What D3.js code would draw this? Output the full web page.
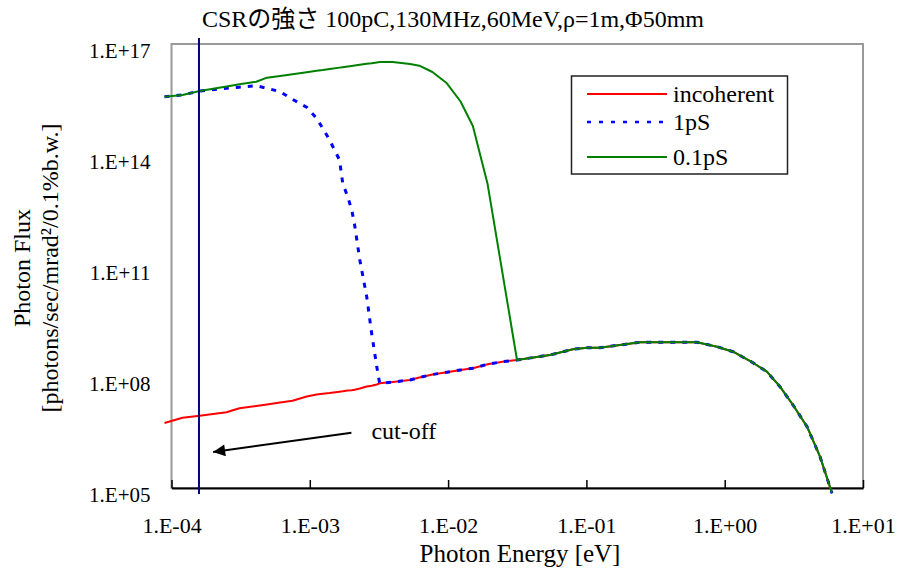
<!DOCTYPE html>
<html>
<head>
<meta charset="utf-8">
<script src="https://cdn.jsdelivr.net/npm/d3@7/dist/d3.min.js"></script>
</head>
<body style="margin:0; background:#ffffff">
<svg id="chart" width="898" height="572" font-family="Liberation Serif, Noto Sans CJK JP, serif"></svg>
<script>
// Photon energy [eV] grid shared by all three series
var energy = [8.9e-5, 1.2e-4, 1.6e-4, 2.5e-4, 3.1e-4, 4.1e-4, 4.9e-4, 6.1e-4, 7.5e-4, 9.5e-4,
    1.12e-3, 1.24e-3, 1.39e-3, 1.64e-3, 1.73e-3, 1.88e-3, 2.01e-3, 2.11e-3, 2.30e-3, 2.58e-3,
    2.80e-3, 3.05e-3, 3.2e-3, 3.98e-3, 5.3e-3, 6.2e-3, 7.7e-3, 9.8e-3, 1.23e-2, 1.51e-2,
    1.93e-2, 2.48e-2, 3.15e-2, 5.45e-2, 8.0e-2, 0.101, 0.125, 0.244, 0.63, 0.88,
    1.15, 1.6, 2.02, 2.51, 3.12, 3.94, 4.89, 5.97];

// incoherent
var fluxIncoherent = [5.7e6, 7.9e6, 9.0e6, 1.11e7, 1.43e7, 1.64e7, 1.81e7, 2.05e7, 2.29e7, 2.97e7,
    3.37e7, 3.54e7, 3.70e7, 4.01e7, 4.11e7, 4.32e7, 4.40e7, 4.51e7, 4.89e7, 5.53e7,
    5.78e7, 6.27e7, 6.76e7, 7.33e7, 8.30e7, 9.69e7, 1.17e8, 1.34e8, 1.55e8, 1.72e8,
    2.22e8, 2.59e8, 2.88e8, 3.93e8, 5.61e8, 6.20e8, 6.20e8, 8.67e8, 8.67e8, 6.59e8,
    4.83e8, 2.43e8, 1.39e8, 5.47e7, 1.75e7, 4.54e6, 7.02e5, 7.2e4];

// 1pS bunch
var flux1pS = [3.77e15, 4.19e15, 5.37e15, 6.35e15, 6.79e15, 7.46e15, 6.35e15, 5.14e15, 3.20e15, 1.95e15,
    9.8e14, 5.27e14, 2.54e14, 7.33e13, 1.72e13, 7.46e12, 3.27e12, 1.28e12, 1.45e11, 1.48e10,
    1.52e9, 1.90e8, 6.76e7, 7.33e7, 8.30e7, 9.69e7, 1.17e8, 1.34e8, 1.55e8, 1.72e8,
    2.22e8, 2.59e8, 2.88e8, 3.93e8, 5.61e8, 6.20e8, 6.20e8, 8.67e8, 8.67e8, 6.59e8,
    4.83e8, 2.43e8, 1.39e8, 5.47e7, 1.75e7, 4.54e6, 7.02e5, 7.2e4];

// 0.1pS bunch (null = no point read there)
var flux01pS = [3.77e15, 4.19e15, 5.37e15, 7.10e15, 8.15e15, 9.57e15, 1.23e16, 1.37e16, 1.53e16, 1.73e16,
    1.89e16, 1.98e16, 2.11e16, 2.30e16, 2.36e16, 2.47e16, 2.56e16, 2.62e16, 2.74e16, 2.92e16,
    3.03e16, 3.18e16, 3.27e16, 3.27e16, 2.88e16, 2.59e16, 1.75e16, 8.67e15, 2.79e15, 6.08e14,
    1.64e13, null, 2.88e8, 3.93e8, 5.61e8, 6.20e8, 6.20e8, 8.67e8, 8.67e8, 6.59e8,
    4.83e8, 2.43e8, 1.39e8, 5.47e7, 1.75e7, 4.54e6, 7.02e5, 7.2e4];

var seriesNames = ["incoherent", "1pS", "0.1pS"];
var xTicks = [1e-4, 1e-3, 1e-2, 1e-1, 1e0, 1e1];
var yTicks = [1e5, 1e8, 1e11, 1e14, 1e17];

// cut-off marker and its annotation arrow (data coordinates)
var cutoffEnergy = 1.58e-4;
var arrowFrom = [2.0e-3, 3.1e6];
var arrowTo = [2.0e-4, 9.4e5];

var titleText = "CSRの強さ 100pC,130MHz,60MeV,ρ=1m,Φ50mm";

var FONT = "Liberation Serif, Noto Sans CJK JP, serif";
var plot = { left: 171.5, right: 863, top: 44, bottom: 488 };

var svg = d3.select("#chart");

var x = d3.scaleLog().domain([1e-4, 10]).range([plot.left, plot.right]);
var y = d3.scaleLog().domain([1e5, 1e17]).range([plot.bottom, plot.top]);

function expLabel(v)
{
    var e = Math.round(Math.log10(v));
    var s = e < 0 ? "-" : "+";
    var a = Math.abs(e);
    return "1.E" + s + (a < 10 ? "0" + a : a);
}

/* plot frame (gray) */
svg.append("rect")
    .attr("x", plot.left).attr("y", plot.top)
    .attr("width", plot.right - plot.left).attr("height", plot.bottom - plot.top)
    .attr("fill", "none").attr("stroke", "#999999").attr("stroke-width", 2);

/* x axis: black line, ticks pointing inwards */
var xAxis = svg.append("g")
    .attr("transform", "translate(0," + plot.bottom + ")")
    .call(d3.axisBottom(x).tickValues(xTicks).tickSize(-8).tickSizeOuter(0).tickPadding(29).tickFormat(expLabel));
xAxis.attr("font-family", FONT).attr("font-size", 22);
xAxis.select(".domain").attr("stroke", "#000").attr("stroke-width", 2);
xAxis.selectAll(".tick line").attr("stroke", "#000").attr("stroke-width", 1.5);
xAxis.selectAll(".tick text").attr("dy", "0.71em");

/* y axis: labels only */
var yAxis = svg.append("g")
    .attr("transform", "translate(" + plot.left + ",0)")
    .call(d3.axisLeft(y).tickValues(yTicks).tickSize(0).tickPadding(21).tickFormat(expLabel));
yAxis.attr("font-family", FONT).attr("font-size", 21);
yAxis.select(".domain").remove();
yAxis.selectAll(".tick text").attr("dy", "0.62em");

/* series */
function seriesData(values)
{
    var pts = [];
    for (var i = 0; i < energy.length; i++) {
        if (values[i] !== null) pts.push({ e: energy[i], f: values[i] });
    }
    return pts;
}

var line = d3.line().x(function (d) { return x(d.e); }).y(function (d) { return y(d.f); });

var styles = [
    { color: "#ff0000", width: 2, dash: null },
    { color: "#0000ff", width: 3, dash: "5,7" },
    { color: "#008000", width: 2, dash: null }
];
var allSeries = [fluxIncoherent, flux1pS, flux01pS];

for (var s = 0; s < allSeries.length; s++) {
    svg.append("path")
        .datum(seriesData(allSeries[s]))
        .attr("d", line)
        .attr("fill", "none")
        .attr("stroke", styles[s].color)
        .attr("stroke-width", styles[s].width)
        .attr("stroke-dasharray", styles[s].dash)
        .attr("stroke-linejoin", "round");
}

/* cut-off vertical line */
svg.append("line")
    .attr("x1", x(cutoffEnergy)).attr("x2", x(cutoffEnergy))
    .attr("y1", plot.top - 6).attr("y2", plot.bottom + 6)
    .attr("stroke", "#000080").attr("stroke-width", 2);

/* arrow */
svg.append("defs").append("marker")
    .attr("id", "arrowHead")
    .attr("viewBox", "0 0 10 10")
    .attr("refX", 10).attr("refY", 5)
    .attr("markerWidth", 7).attr("markerHeight", 6)
    .attr("markerUnits", "strokeWidth")
    .attr("orient", "auto")
    .append("path").attr("d", "M0,0L10,5L0,10z").attr("fill", "#000");

svg.append("line")
    .attr("x1", x(arrowFrom[0])).attr("y1", y(arrowFrom[1]))
    .attr("x2", x(arrowTo[0])).attr("y2", y(arrowTo[1]))
    .attr("stroke", "#000").attr("stroke-width", 2)
    .attr("marker-end", "url(#arrowHead)");

function addText(parent, size)
{
    return parent.append("text")
        .attr("font-family", FONT)
        .attr("font-size", size)
        .attr("fill", "#000");
}

addText(svg, 24)
    .attr("x", x(arrowFrom[0]) + 20).attr("y", y(arrowFrom[1]) + 6)
    .text("cut-off");

/* legend */
var legend = svg.append("g");
legend.append("rect")
    .attr("x", 571.5).attr("y", 76).attr("width", 216).attr("height", 98)
    .attr("fill", "#fff").attr("stroke", "#222").attr("stroke-width", 1.5);
var legendRowY = [94, 122, 157];
for (var k = 0; k < seriesNames.length; k++) {
    legend.append("line")
        .attr("x1", 587).attr("x2", 667)
        .attr("y1", legendRowY[k]).attr("y2", legendRowY[k])
        .attr("stroke", styles[k].color)
        .attr("stroke-width", styles[k].dash ? 2.5 : 2)
        .attr("stroke-dasharray", styles[k].dash ? "4,8" : null);
    addText(legend, 24)
        .attr("x", 673).attr("y", legendRowY[k] + 8)
        .text(seriesNames[k]);
}

/* titles */
addText(svg, 24)
    .attr("x", 453).attr("y", 27)
    .attr("text-anchor", "middle")
    .text(titleText);

addText(svg, 25)
    .attr("x", 520).attr("y", 562)
    .attr("text-anchor", "middle")
    .text("Photon Energy [eV]");

/* y title, two rotated lines */
addText(svg, 24)
    .attr("transform", "translate(30,268) rotate(-90)")
    .attr("text-anchor", "middle")
    .text("Photon Flux");

addText(svg, 24)
    .attr("transform", "translate(58,268) rotate(-90)")
    .attr("text-anchor", "middle")
    .text("[photons/sec/mrad²/0.1%b.w.]");
</script>
</body>
</html>
